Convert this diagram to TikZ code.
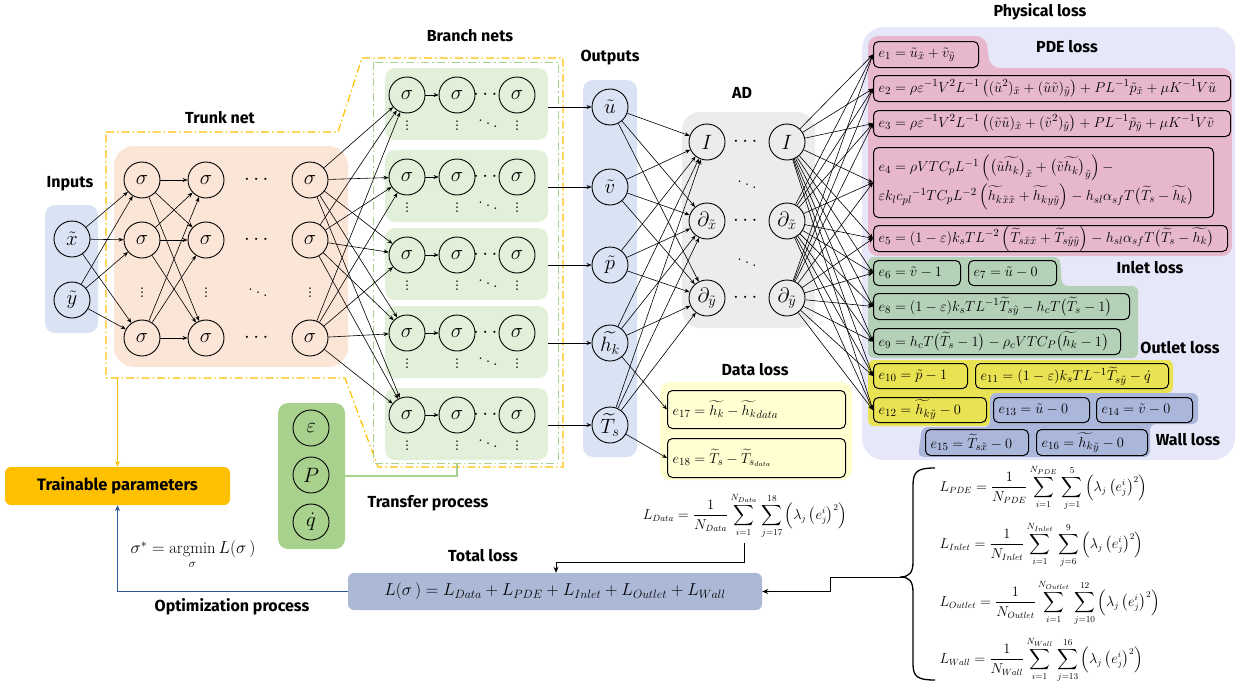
\documentclass[tikz,border=0pt]{standalone}
\usepackage{amsmath}
\usepackage{fontspec}
\newfontfamily\labfont{Fira Sans}
\usetikzlibrary{arrows.meta,calc}
\definecolor{inblue}{RGB}{218,227,243}
\definecolor{trunkor}{RGB}{251,229,214}
\definecolor{brgreen}{RGB}{226,240,217}
\definecolor{adgray}{RGB}{236,236,236}
\definecolor{datayel}{RGB}{255,255,210}
\definecolor{physlav}{RGB}{231,231,250}
\definecolor{pdepink}{RGB}{231,184,203}
\definecolor{inletgr}{RGB}{180,208,182}
\definecolor{outyel}{RGB}{233,226,82}
\definecolor{wallbl}{RGB}{170,182,218}
\definecolor{totbl}{RGB}{172,185,214}
\definecolor{trgreen}{RGB}{169,209,142}
\definecolor{goldc}{RGB}{255,192,0}
\definecolor{optblue}{RGB}{47,85,151}
\newcommand{\nnfont}{\fontsize{20}{22}\selectfont}
\newcommand{\eqsize}{\fontsize{15}{18}\selectfont}
\newcommand{\lsize}{\fontsize{13.5}{16}\selectfont}
\newcommand{\eqnode}[6]{\node[eqbox,text width=#4pt,minimum height=#5pt] (#1) at (#2,#3) {\mbox{$#6$}};}
\newcommand{\lossf}[3]{L_{#1}=\frac{1}{N_{#1}}\sum_{i=1}^{N_{#1}}\,\sum_{j=#2}^{#3}\left(\lambda_j\left(e_j^i\right)^2\right)}
\begin{document}
\begin{tikzpicture}[x=1pt,y=-1pt,
  neuron/.style={circle,draw,line width=0.9pt,minimum size=36pt,inner sep=0pt,font=\nnfont},
  arr/.style={-{Stealth[length=5pt,width=4pt]},line width=0.6pt},
  lab/.style={font=\labfont\bfseries\fontsize{16}{19}\selectfont,inner sep=1pt},
  bg/.style={rounded corners=10pt,inner sep=0pt},
  eqbox/.style={draw,rounded corners=5pt,line width=1pt,anchor=north west,inner xsep=5pt,inner ysep=0pt,align=left,font=\eqsize},
  dotn/.style={inner sep=0pt,font=\nnfont},
  dd/.style={dash pattern=on 8pt off 3pt on 1.5pt off 3pt}
]
\useasboundingbox (0,0) rectangle (1253,688);

% ---------- backgrounds ----------
\node[bg,fill=inblue,minimum width=53pt,minimum height=128pt] (inbox) at (71.5,269) {};
\node[bg,fill=trunkor,rounded corners=20pt,minimum width=234pt,minimum height=221pt] (trbox) at (231,256.5) {};
\foreach \r/\y in {1/95,2/177,3/255,4/333,5/415}
  \node[bg,fill=brgreen,minimum width=163pt,minimum height=72pt] (bb\r) at (466.5,\y+9) {};
\node[bg,fill=inblue,minimum width=54pt,minimum height=377pt] (obox) at (610,268.5) {};
\node[bg,fill=adgray,rounded corners=18pt,minimum width=133pt,minimum height=216pt] (adbox) at (748.5,220) {};
\node[bg,fill=datayel,minimum width=192pt,minimum height=98pt] (dbox) at (756,431) {};
\node[bg,fill=physlav,rounded corners=22pt,minimum width=373pt,minimum height=433pt] (pbox) at (1048.5,243.5) {};
\fill[pdepink,rounded corners=10pt] (868,36) -- (986,36) -- (990,68) -- (1232,68) -- (1232,256) -- (868,256) -- cycle;
\fill[inletgr,rounded corners=6pt] (868,257) -- (1060,257) -- (1062,286) -- (1138,286) -- (1138,358) -- (868,358) -- cycle;
\fill[outyel,rounded corners=6pt] (868,360) -- (1173,360) -- (1173,393) -- (990,393) -- (990,426) -- (868,426) -- cycle;
\fill[wallbl,rounded corners=6pt] (990,393) -- (1198,393) -- (1198,424) -- (1150,424) -- (1150,457) -- (918,457) -- (922,427) -- (990,427) -- cycle;
\node[bg,fill=trgreen,minimum width=67pt,minimum height=146pt] (trf) at (311.5,476) {};
\node[bg,fill=goldc,rounded corners=6pt,minimum width=225pt,minimum height=38pt,font=\labfont\bfseries\fontsize{16.5}{19}\selectfont] (train) at (117.5,486) {Trainable parameters};
\node[bg,fill=totbl,rounded corners=6pt,minimum width=414pt,minimum height=37pt,font=\fontsize{16.5}{19}\selectfont] (total) at (555,591.5) {$L(\sigma\,)=L_{Data}+L_{PDE}+L_{Inlet}+L_{Outlet}+L_{Wall}$};

% ---------- dash-dot outlines ----------
\draw[goldc,line width=1.2pt,dd] (106,132) -- (338,132) -- (362,58) -- (563,58) -- (563,467) -- (378,467) -- (345,378) -- (106,378) -- cycle;
\draw[trgreen,line width=1pt,dd] (373,62) rectangle (558,463);

% ---------- labels ----------
\node[lab] (hin) at (70,184) {Inputs};
\node[lab] (htr) at (220,118) {Trunk net};
\node[lab] (hbr) at (470,36) {Branch nets};
\node[lab] (hout) at (610,58) {Outputs};
\node[lab] (had) at (742,93) {AD};
\node[lab] (hdata) at (755,370) {Data loss};
\node[lab] (hphys) at (1040,12) {Physical loss};
\node[lab] (hpde) at (1067,47) {PDE loss};
\node[lab] (hinl) at (1150,268) {Inlet loss};
\node[lab] (houtl) at (1180,348) {Outlet loss};
\node[lab] (hwall) at (1188,440) {Wall loss};
\node[lab] (htrans) at (428,503) {Transfer process};
\node[lab] (htot) at (483,556) {Total loss};
\node[lab] (hopt) at (232,607) {Optimization process};

% ---------- neurons ----------
\node[neuron] (ix) at (72,239) {$\tilde{x}$};
\node[neuron] (iy) at (72,300) {$\tilde{y}$};
\foreach \c/\x in {1/142,2/206,3/310}{
  \foreach \r/\y in {1/180,2/240,3/338}
    \node[neuron] (t\c\r) at (\x,\y) {$\sigma$};
  \node[dotn] (tv\c) at (\x,290) {$\vdots$};
}
\foreach \r/\y in {1/180,2/240,3/338}
  \node[dotn] (th\r) at (258,\y) {$\cdots$};
\node[dotn] (tdd) at (258,290) {$\ddots$};

\foreach \r/\y in {1/95,2/177,3/255,4/333,5/415}{
  \node[neuron] (b\r1) at (407,\y) {$\sigma$};
  \node[neuron] (b\r2) at (457,\y) {$\sigma$};
  \node[neuron] (b\r3) at (517,\y) {$\sigma$};
  \node[dotn] (bh\r) at (487,\y) {$\cdots$};
  \node[dotn] (bv\r1) at (407,\y+28) {$\vdots$};
  \node[dotn] (bv\r2) at (457,\y+28) {$\vdots$};
  \node[dotn] (bv\r3) at (517,\y+28) {$\vdots$};
  \node[dotn] (bd\r) at (488,\y+26) {$\ddots$};
  \draw[arr] (b\r1) -- (b\r2);
}

\node[neuron] (ou) at (610,107) {$\tilde{u}$};
\node[neuron] (ov) at (610,187) {$\tilde{v}$};
\node[neuron] (op) at (610,265) {$\tilde{p}$};
\node[neuron] (oh) at (610,343) {$\widetilde{h_k}$};
\node[neuron] (ot) at (610,425) {$\widetilde{T}_s$};
\foreach \r/\o in {1/ou,2/ov,3/op,4/oh,5/ot}
  \draw[arr] (\o -| bb\r.east) -- (\o);

\node[neuron] (a11) at (707,142) {$I$};
\node[neuron] (a12) at (787,142) {$I$};
\node[neuron] (a21) at (707,221) {$\partial_{\tilde{x}}$};
\node[neuron] (a22) at (787,221) {$\partial_{\tilde{x}}$};
\node[neuron] (a31) at (707,298) {$\partial_{\tilde{y}}$};
\node[neuron] (a32) at (787,298) {$\partial_{\tilde{y}}$};
\foreach \r/\y in {1/142,2/221,3/298}
  \node[dotn] (ah\r) at (747,\y) {$\cdots$};
\node[dotn] (ad1) at (747,182) {$\ddots$};
\node[dotn] (ad2) at (747,260) {$\ddots$};

\node[neuron] (te) at (311,428) {$\varepsilon$};
\node[neuron] (tp) at (311,475) {$P$};
\node[neuron] (tq) at (311,522) {$\dot{q}$};

% ---------- equation boxes ----------
\eqnode{e1}{873}{41}{95}{26}{e_1=\tilde{u}_{\tilde{x}}+\tilde{v}_{\tilde{y}}}
\eqnode{e2}{873}{75}{347}{26}{e_2=\rho\varepsilon^{-1}V^2L^{-1}\left((\tilde{u}^2)_{\tilde{x}}+(\tilde{u}\tilde{v})_{\tilde{y}}\right)+PL^{-1}\tilde{p}_{\tilde{x}}+\mu K^{-1}V\tilde{u}}
\eqnode{e3}{873}{110}{347}{26}{e_3=\rho\varepsilon^{-1}V^2L^{-1}\left((\tilde{v}\tilde{u})_{\tilde{x}}+(\tilde{v}^2)_{\tilde{y}}\right)+PL^{-1}\tilde{p}_{\tilde{y}}+\mu K^{-1}V\tilde{v}}
\node[eqbox,text width=330pt,minimum height=70pt] (e4) at (873,147) {\mbox{$e_4=\rho VTC_pL^{-1}\left(\big(\tilde{u}\widetilde{h_k}\big)_{\tilde{x}}+\big(\tilde{v}\widetilde{h_k}\big)_{\tilde{y}}\right)-$}\\[2pt]\mbox{$\varepsilon k_l{c_{pl}}^{-1}TC_pL^{-2}\left(\widetilde{h_k}_{\tilde{x}\tilde{x}}+\widetilde{h_k}_{y\tilde{y}}\right)-h_{sl}\alpha_{sf}T\big(\widetilde{T}_s-\widetilde{h_k}\big)$}};
\eqnode{e5}{873}{225}{344}{26}{e_5=(1-\varepsilon)k_sTL^{-2}\left(\widetilde{T}_{s\tilde{x}\tilde{x}}+\widetilde{T}_{s\tilde{y}\tilde{y}}\right)-h_{sl}\alpha_{sf}T\big(\widetilde{T}_s-\widetilde{h_k}\big)}
\eqnode{e6}{873}{260}{77}{25}{e_6=\tilde{v}-1}
\eqnode{e7}{968}{260}{78}{25}{e_7=\tilde{u}-0}
\eqnode{e8}{873}{293}{246}{26}{e_8=(1-\varepsilon)k_sTL^{-1}\widetilde{T}_{s\tilde{y}}-h_cT\big(\widetilde{T}_s-1\big)}
\eqnode{e9}{873}{328}{237}{26}{e_9=h_cT\big(\widetilde{T}_s-1\big)-\rho_cVTC_P\big(\widetilde{h_k}-1\big)}
\eqnode{e10}{873}{363}{84}{25}{e_{10}=\tilde{p}-1}
\eqnode{e11}{975}{363}{183}{25}{e_{11}=(1-\varepsilon)k_sTL^{-1}\widetilde{T}_{s\tilde{y}}-\dot{q}}
\eqnode{e12}{873}{397}{103}{25}{e_{12}=\widetilde{h_k}_{\tilde{y}}-0}
\eqnode{e13}{993}{397}{86}{25}{e_{13}=\tilde{u}-0}
\eqnode{e14}{1096}{397}{86}{25}{e_{14}=\tilde{v}-0}
\eqnode{e15}{925}{429}{93}{26}{e_{15}=\widetilde{T}_{s\tilde{x}}-0}
\eqnode{e16}{1036}{429}{101}{26}{e_{16}=\widetilde{h_k}_{\tilde{y}}-0}
\eqnode{e17}{667}{390}{168}{38}{e_{17}=\widetilde{h_k}-\widetilde{h_k}_{data}}
\eqnode{e18}{667}{438}{168}{39}{e_{18}=\widetilde{T}_s-\widetilde{T}_{s_{data}}}

% ---------- connections ----------
\foreach \i in {ix,iy}
  \foreach \r in {1,2,3}
    \draw[arr] (\i) -- (t1\r);
\foreach \a in {1,2,3}
  \foreach \b in {1,2,3}
    \draw[arr] (t1\a) -- (t2\b);
\foreach \a in {1,2,3}
  \foreach \b in {1,...,5}
    \draw[arr] (t3\a) -- (b\b1);
\foreach \o in {ou,ov,op,oh,ot}
  \foreach \a in {1,2,3}
    \draw[arr] (\o) -- (a\a1);
\foreach \a in {1,2,3}
  \foreach \e in {e1,e2,e3,e4,e5,e6,e8,e9,e10,e12}
    \draw[arr] (a\a2) -- (\e.west);
\draw[arr] (oh) -- (e17.west);
\draw[arr] (ot) -- (e18.west);

% ---------- loss formulas ----------
\node[font=\lsize] (ldata) at (745,516) {$\displaystyle\lossf{Data}{17}{18}$};
\node[font=\lsize,anchor=west] (lpde) at (936,488) {$\displaystyle\lossf{PDE}{1}{5}$};
\node[font=\lsize,anchor=west] (linl) at (936,545) {$\displaystyle\lossf{Inlet}{6}{9}$};
\node[font=\lsize,anchor=west] (lout) at (936,603) {$\displaystyle\lossf{Outlet}{10}{12}$};
\node[font=\lsize,anchor=west] (lwall) at (936,660) {$\displaystyle\lossf{Wall}{13}{16}$};
\node[font=\fontsize{16.5}{19}\selectfont] (argm) at (193,555) {$\sigma^*=\mathop{\mathrm{argmin}}\limits_{\sigma}L(\sigma\,)$};

\draw[line width=1.3pt] (935,468) .. controls (918,468) and (913,471) .. (913,485) -- (913,562) .. controls (913,573) and (909,577) .. (900,577) .. controls (909,577) and (913,581) .. (913,592) -- (913,664) .. controls (913,677) and (918,680) .. (935,680);

% ---------- process arrows ----------
\coordinate (ts) at (117.5,378);
\draw[goldc,line width=1pt,-{Stealth[length=6pt,width=5pt]}] (ts) -- (train.north);
\draw[optblue,line width=1pt,-{Stealth[length=6pt,width=5pt]}] (total.west) -| (train.south);
\coordinate (gb) at (457,463);
\draw[trgreen,line width=1.2pt] (trf.east) -| (gb);
\coordinate (ldb) at (744,543);
\coordinate (tj) at (556,562);
\draw[line width=0.9pt,-{Stealth[length=6pt,width=5pt]}] (ldb) |- (tj) -- (tj |- total.north);
\coordinate (bt) at (903,577);
\coordinate (bk) at (830,577);
\draw[line width=0.9pt,-{Stealth[length=6pt,width=5pt]}] (bt) -- (bk) |- (total.east);
\end{tikzpicture}
\end{document}
